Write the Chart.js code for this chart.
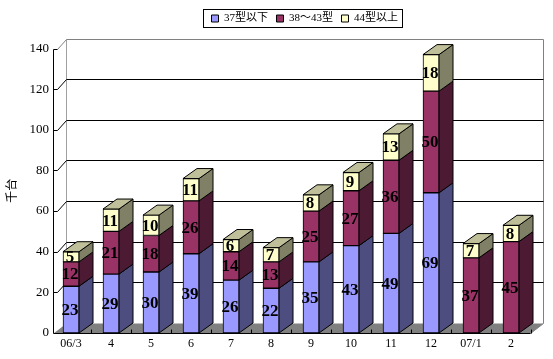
<!DOCTYPE html>
<html>
<head>
<meta charset="utf-8">
<title>chart</title>
<script src="https://cdn.jsdelivr.net/npm/chart.js@4/dist/chart.umd.min.js"></script>
<style>
  html, body { margin: 0; padding: 0; background: #fff; }
  #wrap { width: 553px; height: 359px; }
</style>
</head>
<body>
<div id="wrap"><canvas id="c" width="553" height="359"></canvas></div>
<script>
const categories = ['06/3', '4', '5', '6', '7', '8', '9', '10', '11', '12', '07/1', '2'];
const seriesNames = ['37型以下', '38～43型', '44型以上'];
const small = [23, 29, 30, 39, 26, 22, 35, 43, 49, 69, null, null];
const middle = [12, 21, 18, 26, 14, 13, 25, 27, 36, 50, 37, 45];
const large = [5, 11, 10, 11, 6, 7, 8, 9, 13, 18, 7, 8];
const yTitle = '千台';

const frontColors = ['#9999ff', '#993366', '#ffffcc'];
const sideColors = ['#4d4d80', '#4d1a33', '#808066'];
const capColors = ['#7373bf', '#732650', '#bfbf99'];

const serif = "'Liberation Serif', 'Noto Sans CJK JP', serif";
const BAR_DX = 14, BAR_DY = 10;   // bar depth
const WALL_DX = 13, WALL_DY = 10; // back wall offset
const AXIS_X = 53, AXIS_RIGHT = 530;

function polygon(ctx, pts, fill, stroke) {
    ctx.beginPath();
    pts.forEach((p, i) => (i ? ctx.lineTo(p[0], p[1]) : ctx.moveTo(p[0], p[1])));
    ctx.closePath();
    if (fill) { ctx.fillStyle = fill; ctx.fill(); }
    if (stroke) { ctx.strokeStyle = stroke; ctx.lineWidth = 1; ctx.stroke(); }
}

function line(ctx, x1, y1, x2, y2, color) {
    ctx.beginPath();
    ctx.moveTo(x1, y1);
    ctx.lineTo(x2, y2);
    ctx.strokeStyle = color;
    ctx.lineWidth = 1;
    ctx.stroke();
}

// walls, floor, grid and the depth faces go under the flat bars
const box3d = {
    id: 'box3d',
    afterLayout(chart) {
        const lg = chart.legend;
        const w = lg.right - lg.left;
        lg.left = 203;
        lg.right = 203 + w;
        lg.top = 4.5;
    },
    beforeDatasetsDraw(chart) {
        const ctx = chart.ctx;
        const y = chart.scales.y, x = chart.scales.x;
        const y0 = Math.round(y.getPixelForValue(0)) + 0.5;
        const yTop = Math.round(y.getPixelForValue(140)) + 0.5;
        const ax = AXIS_X + 0.5, bx = ax + WALL_DX, rx = AXIS_RIGHT + 0.5, brx = rx + WALL_DX;
        ctx.save();

        polygon(ctx, [[ax, y0], [bx, y0 - WALL_DY], [brx, y0 - WALL_DY], [rx, y0]], '#808080');
        line(ctx, bx, yTop - WALL_DY, brx, yTop - WALL_DY, '#808080');
        line(ctx, bx, yTop - WALL_DY, bx, y0 - WALL_DY, '#a0a0a0');
        line(ctx, brx, yTop - WALL_DY, brx, y0 - WALL_DY, '#808080');
        line(ctx, brx, y0 - WALL_DY, rx, y0, '#808080');

        y.ticks.forEach((t) => {
            const py = Math.round(y.getPixelForValue(t.value)) + 0.5;
            if (t.value > 0) {
                const c = t.value === 140 ? '#808080' : '#000';
                if (t.value < 140) line(ctx, bx, py - WALL_DY, brx, py - WALL_DY, '#000');
                line(ctx, ax + 4, py, bx, py - WALL_DY, c);
                line(ctx, ax, py, ax + 4, py, '#000');
            }
        });

        line(ctx, ax, yTop, ax, y0, '#000');
        line(ctx, ax, y0, rx, y0, '#000');
        categories.forEach((_, i) => {
            const tx = Math.round(x.getPixelForValue(i) + 20) + 0.5;
            line(ctx, tx, y0, tx, y0 - 4, '#000');
        });

        chart.data.datasets.forEach((ds, di) => {
            chart.getDatasetMeta(di).data.forEach((bar, i) => {
                if (ds.data[i] == null) return;
                const p = bar.getProps(['x', 'y', 'base', 'width']);
                const r = p.x + p.width / 2, l = p.x - p.width / 2;
                polygon(ctx, [[r, p.base], [r + BAR_DX, p.base - BAR_DY], [r + BAR_DX, p.y - BAR_DY], [r, p.y]], sideColors[di], '#000');
                if (di === chart.data.datasets.length - 1) {
                    polygon(ctx, [[l, p.y], [l + BAR_DX, p.y - BAR_DY], [r + BAR_DX, p.y - BAR_DY], [r, p.y]], capColors[di], '#000');
                }
            });
        });
        ctx.restore();
    },
    afterDatasetsDraw(chart) {
        const ctx = chart.ctx;
        ctx.save();
        ctx.font = 'bold 17px ' + serif;
        ctx.fillStyle = '#000';
        ctx.textAlign = 'center';
        ctx.textBaseline = 'middle';
        chart.data.datasets.forEach((ds, di) => {
            chart.getDatasetMeta(di).data.forEach((bar, i) => {
                if (ds.data[i] == null) return;
                const p = bar.getProps(['x', 'y', 'base']);
                ctx.fillText(ds.data[i], p.x - 1, (p.y + p.base) / 2 + 1);
            });
        });
        ctx.restore();
    },
    afterDraw(chart) {
        const ctx = chart.ctx;
        ctx.save();
        ctx.strokeStyle = '#000';
        ctx.lineWidth = 1;
        ctx.strokeRect(203.5, 9.5, 199, 18);
        ctx.restore();
    }
};

new Chart(document.getElementById('c').getContext('2d'), {
    type: 'bar',
    plugins: [box3d],
    data: {
        labels: categories,
        datasets: [small, middle, large].map((values, i) => ({
            label: seriesNames[i],
            data: values,
            backgroundColor: frontColors[i],
            borderColor: '#000',
            borderWidth: 1,
            borderSkipped: false,
            barThickness: 16
        }))
    },
    options: {
        responsive: false,
        animation: false,
        layout: { padding: { top: 19, right: 22, left: 0, bottom: 0 } },
        plugins: {
            tooltip: { enabled: false },
            legend: {
                position: 'top',
                align: 'start',
                labels: {
                    boxWidth: 7,
                    boxHeight: 7,
                    padding: 8.5,
                    color: '#000',
                    font: { family: serif, size: 11 }
                }
            }
        },
        scales: {
            x: {
                stacked: true,
                afterFit(s) { s.height = 26; },
                grid: { display: false, drawTicks: false },
                border: { display: false },
                ticks: {
                    color: '#000',
                    padding: 4,
                    autoSkip: false,
                    maxRotation: 0,
                    font: { family: serif, size: 12 }
                }
            },
            y: {
                stacked: true,
                min: 0,
                max: 140,
                afterFit(s) { s.width = 51; },
                grid: { display: false, drawTicks: false },
                border: { display: false },
                title: {
                    display: true,
                    text: yTitle,
                    color: '#000',
                    padding: { top: 6, bottom: 0 },
                    font: { family: serif, size: 12 }
                },
                ticks: {
                    color: '#000',
                    stepSize: 20,
                    padding: 2,
                    font: { family: serif, size: 13 }
                }
            }
        }
    }
});
</script>
</body>
</html>
